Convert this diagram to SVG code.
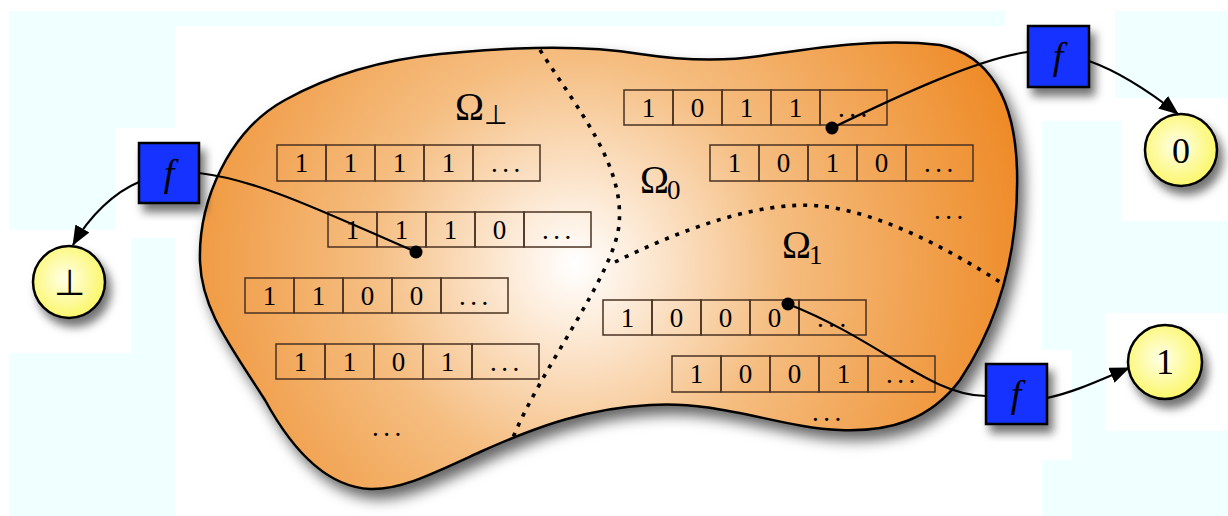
<svg xmlns="http://www.w3.org/2000/svg" width="1228" height="516" viewBox="0 0 1228 516">
<style>
.cell{fill:none;stroke:#4a3222;stroke-width:1.5}
.num{font-family:"Liberation Serif",serif;font-size:27px;fill:#000;text-anchor:middle}
.dots{font-family:"Liberation Serif",serif;font-size:27px;fill:#000;letter-spacing:4.5px}
.omega{font-family:"Liberation Serif",serif;font-size:39px;fill:#000}
.sub{font-family:"Liberation Serif",serif;font-size:27px;fill:#000}
.fbox{fill:#1232ff;stroke:#000;stroke-width:2.5}
.ftxt{font-family:"Liberation Serif",serif;font-style:italic;font-size:38px;fill:#000;text-anchor:middle}
.out{fill:url(#yel);stroke:#000;stroke-width:2.5}
.otxt{font-family:"Liberation Serif",serif;font-size:36px;fill:#000;text-anchor:middle}
.conn{fill:none;stroke:#000;stroke-width:2.2}
.bound{fill:none;stroke:#000;stroke-width:3.6;stroke-dasharray:4 7}
</style>
<defs>
<radialGradient id="org" gradientUnits="userSpaceOnUse" cx="575" cy="265" r="460">
<stop offset="0" stop-color="#ffffff"/>
<stop offset="0.12" stop-color="#fdeede"/>
<stop offset="0.45" stop-color="#f5bd80"/>
<stop offset="1" stop-color="#ee8a26"/>
</radialGradient>
<radialGradient id="yel" cx="0.45" cy="0.45" r="0.6">
<stop offset="0" stop-color="#ffffe8"/>
<stop offset="1" stop-color="#fbf660"/>
</radialGradient>
<filter id="sh" x="-20%" y="-20%" width="150%" height="150%">
<feDropShadow dx="5" dy="8" stdDeviation="5" flood-color="#000" flood-opacity="0.55"/>
</filter>
<filter id="bsh" x="-10%" y="-10%" width="125%" height="130%">
<feDropShadow dx="6" dy="9" stdDeviation="7" flood-color="#000" flood-opacity="0.6"/>
</filter>
<marker id="arr" markerUnits="userSpaceOnUse" markerWidth="20" markerHeight="16" refX="19" refY="8" orient="auto">
<path d="M0,0 L20,8 L0,16 z" fill="#000"/>
</marker>
</defs>
<rect width="1228" height="516" fill="#fff"/>
<g id="background" fill="#f0ffff">
<rect x="9" y="11" width="996" height="15"/>
<rect x="9" y="11" width="166" height="117"/>
<rect x="9" y="128" width="107" height="102"/>
<rect x="131" y="238" width="44" height="278"/>
<rect x="9" y="353" width="166" height="163"/>
<rect x="1115" y="11" width="113" height="87"/>
<rect x="1042" y="121" width="80" height="192"/>
<rect x="1042" y="221" width="186" height="92"/>
<rect x="1042" y="313" width="30" height="37"/>
<rect x="1042" y="460" width="30" height="56"/>
<rect x="1072" y="313" width="33" height="203"/>
<rect x="1105" y="431" width="123" height="85"/>
</g>
<g id="region">
<path filter="url(#bsh)" fill="url(#org)" stroke="#000" stroke-width="2.5" d="M200,262 C198,200 230,130 285,100 C330,75 380,60 440,54 C500,48 580,44 640,54 C680,60 720,62 760,56 C820,47 880,38 940,45 C990,55 1015,100 1017,170 C1019,250 1000,320 960,380 C930,420 890,432 840,430 C780,428 720,400 650,405 C590,408 540,425 480,452 C430,475 400,490 370,489 C330,487 295,455 265,400 C230,345 202,310 200,262 Z"/>
</g>
<g id="boundaries">
<path class="bound" d="M540,50 C578,110 625,165 619,225 C614,275 540,370 512,440"/>
<path class="bound" d="M615,262 C680,230 760,200 820,206 C880,212 950,250 1000,282"/>
</g>
<g id="labels">
<text class="omega" x="455" y="120">Ω</text><text class="sub" x="484" y="124" font-family="DejaVu Serif" font-size="22">⊥</text>
<text class="omega" x="640" y="193">Ω</text><text class="sub" x="667" y="199">0</text>
<text class="omega" x="782" y="258">Ω</text><text class="sub" x="809" y="264">1</text>
<text class="dots" x="372" y="436">...</text>
<text class="dots" x="934" y="219">...</text>
<text class="dots" x="812" y="421">...</text>
</g>
<g id="tape-1111" transform="translate(277,145)">
<rect class="cell" x="0" y="0" width="49" height="36"/><rect class="cell" x="49" y="0" width="49" height="36"/><rect class="cell" x="98" y="0" width="49" height="36"/><rect class="cell" x="147" y="0" width="49" height="36"/><rect class="cell" x="196" y="0" width="67" height="36"/>
<text class="num" x="24.5" y="27">1</text><text class="num" x="73.5" y="27">1</text><text class="num" x="122.5" y="27">1</text><text class="num" x="171.5" y="27">1</text><text class="dots" x="214" y="27">...</text>
</g>
<g id="tape-1110" transform="translate(328,212)">
<rect class="cell" x="0" y="0" width="49" height="35"/><rect class="cell" x="49" y="0" width="49" height="35"/><rect class="cell" x="98" y="0" width="49" height="35"/><rect class="cell" x="147" y="0" width="49" height="35"/><rect class="cell" x="196" y="0" width="67" height="35"/>
<text class="num" x="24.5" y="27">1</text><text class="num" x="73.5" y="27">1</text><text class="num" x="122.5" y="27">1</text><text class="num" x="171.5" y="27">0</text><text class="dots" x="214" y="27">...</text>
</g>
<g id="tape-1100" transform="translate(245,278)">
<rect class="cell" x="0" y="0" width="49" height="35"/><rect class="cell" x="49" y="0" width="49" height="35"/><rect class="cell" x="98" y="0" width="49" height="35"/><rect class="cell" x="147" y="0" width="49" height="35"/><rect class="cell" x="196" y="0" width="67" height="35"/>
<text class="num" x="24.5" y="27">1</text><text class="num" x="73.5" y="27">1</text><text class="num" x="122.5" y="27">0</text><text class="num" x="171.5" y="27">0</text><text class="dots" x="214" y="27">...</text>
</g>
<g id="tape-1101" transform="translate(276,344)">
<rect class="cell" x="0" y="0" width="49" height="35"/><rect class="cell" x="49" y="0" width="49" height="35"/><rect class="cell" x="98" y="0" width="49" height="35"/><rect class="cell" x="147" y="0" width="49" height="35"/><rect class="cell" x="196" y="0" width="67" height="35"/>
<text class="num" x="24.5" y="27">1</text><text class="num" x="73.5" y="27">1</text><text class="num" x="122.5" y="27">0</text><text class="num" x="171.5" y="27">1</text><text class="dots" x="214" y="27">...</text>
</g>
<g id="tape-1011" transform="translate(624,90)">
<rect class="cell" x="0" y="0" width="49" height="35"/><rect class="cell" x="49" y="0" width="49" height="35"/><rect class="cell" x="98" y="0" width="49" height="35"/><rect class="cell" x="147" y="0" width="49" height="35"/><rect class="cell" x="196" y="0" width="67" height="35"/>
<text class="num" x="24.5" y="27">1</text><text class="num" x="73.5" y="27">0</text><text class="num" x="122.5" y="27">1</text><text class="num" x="171.5" y="27">1</text><text class="dots" x="214" y="27">...</text>
</g>
<g id="tape-1010" transform="translate(710,145)">
<rect class="cell" x="0" y="0" width="49" height="36"/><rect class="cell" x="49" y="0" width="49" height="36"/><rect class="cell" x="98" y="0" width="49" height="36"/><rect class="cell" x="147" y="0" width="49" height="36"/><rect class="cell" x="196" y="0" width="67" height="36"/>
<text class="num" x="24.5" y="27">1</text><text class="num" x="73.5" y="27">0</text><text class="num" x="122.5" y="27">1</text><text class="num" x="171.5" y="27">0</text><text class="dots" x="214" y="27">...</text>
</g>
<g id="tape-1000" transform="translate(603,300)">
<rect class="cell" x="0" y="0" width="49" height="35"/><rect class="cell" x="49" y="0" width="49" height="35"/><rect class="cell" x="98" y="0" width="49" height="35"/><rect class="cell" x="147" y="0" width="49" height="35"/><rect class="cell" x="196" y="0" width="67" height="35"/>
<text class="num" x="24.5" y="27">1</text><text class="num" x="73.5" y="27">0</text><text class="num" x="122.5" y="27">0</text><text class="num" x="171.5" y="27">0</text><text class="dots" x="214" y="27">...</text>
</g>
<g id="tape-1001" transform="translate(672,356)">
<rect class="cell" x="0" y="0" width="49" height="36"/><rect class="cell" x="49" y="0" width="49" height="36"/><rect class="cell" x="98" y="0" width="49" height="36"/><rect class="cell" x="147" y="0" width="49" height="36"/><rect class="cell" x="196" y="0" width="67" height="36"/>
<text class="num" x="24.5" y="27">1</text><text class="num" x="73.5" y="27">0</text><text class="num" x="122.5" y="27">0</text><text class="num" x="171.5" y="27">1</text><text class="dots" x="214" y="27">...</text>
</g>
<g id="connectors">
<path class="conn" d="M139,182 C115,192 90,215 73,245" marker-end="url(#arr)"/>
<path class="conn" d="M199,173 C260,180 330,215 416,252"/>
<path class="conn" d="M1028,52 C980,58 900,95 832,128"/>
<path class="conn" d="M1089,61 C1120,72 1150,92 1178,114" marker-end="url(#arr)"/>
<path class="conn" d="M788,304 C880,340 930,396 986,396"/>
<path class="conn" d="M1047,398 C1075,392 1100,380 1129,368" marker-end="url(#arr)"/>
<circle cx="416" cy="252" r="6.5" fill="#000"/>
<circle cx="832" cy="128" r="6.5" fill="#000"/>
<circle cx="788" cy="304" r="6.5" fill="#000"/>
</g>
<g id="f-left">
<rect class="fbox" filter="url(#sh)" x="139" y="143" width="60" height="60"/>
<text class="ftxt" x="169" y="186">f</text>
</g>
<g id="f-top">
<rect class="fbox" filter="url(#sh)" x="1028" y="26" width="61" height="61"/>
<text class="ftxt" x="1058" y="69">f</text>
</g>
<g id="f-bottom">
<rect class="fbox" filter="url(#sh)" x="986" y="364" width="61" height="60"/>
<text class="ftxt" x="1016" y="407">f</text>
</g>
<g id="out-bottom">
<circle class="out" filter="url(#sh)" cx="69" cy="282" r="36"/>
<text class="otxt" x="69" y="295" font-family="DejaVu Sans" font-size="30">⊥</text>
</g>
<g id="out-0">
<circle class="out" filter="url(#sh)" cx="1181" cy="150" r="36"/>
<text class="otxt" x="1181" y="163">0</text>
</g>
<g id="out-1">
<circle class="out" filter="url(#sh)" cx="1165" cy="362" r="37"/>
<text class="otxt" x="1165" y="374">1</text>
</g>
</svg>
